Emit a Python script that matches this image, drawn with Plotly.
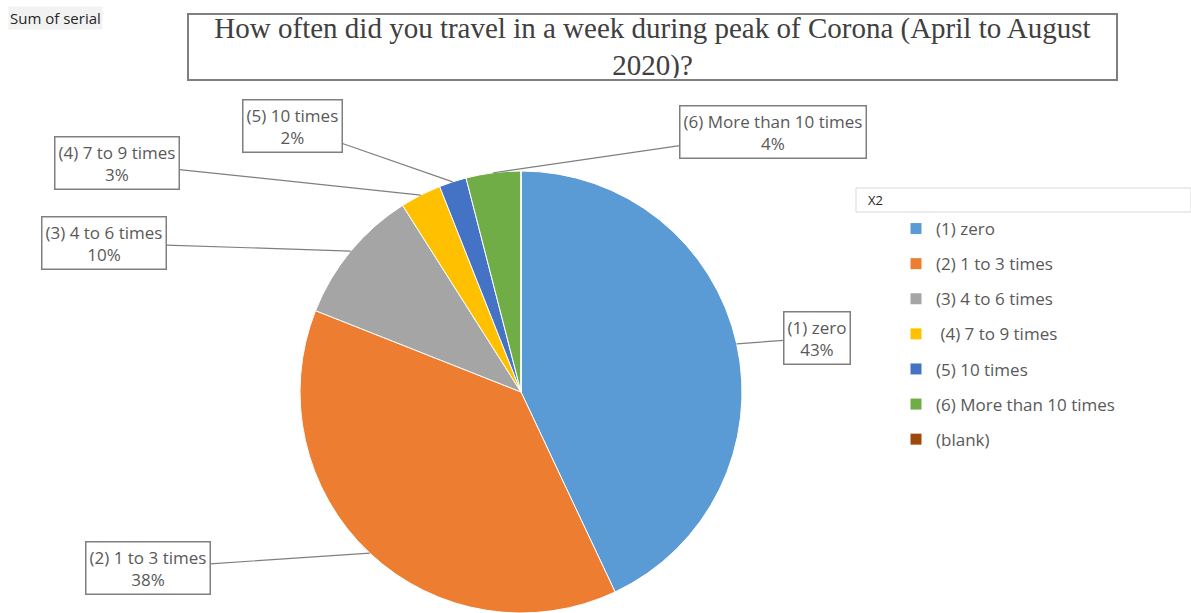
import math
import plotly.graph_objects as go

# Survey answers: weekly trips during the Corona peak (Apr-Aug 2020)
categories = ["(1) zero", "(2) 1 to 3 times", "(3) 4 to 6 times",
              "(4) 7 to 9 times", "(5) 10 times", "(6) More than 10 times", "(blank)"]
legend_labels = ["(1) zero", "(2) 1 to 3 times", "(3) 4 to 6 times",
                 " (4) 7 to 9 times", "(5) 10 times", "(6) More than 10 times", "(blank)"]
values = [43, 38, 10, 3, 2, 4, 0]
colors = ["#5B9BD5", "#ED7D31", "#A5A5A5", "#FFC000", "#4472C4", "#70AD47", "#9E480E"]

W, H = 1191, 613
TEXT = "#595959"
FONT = "Open Sans"

# pie placement in pixels
cx, cy, r = 521, 392, 221
dom_x = [(cx - r) / W, (cx + r) / W]
dom_y = [(H - cy - r) / H, (H - cy + r) / H]

fig = go.Figure()
fig.add_trace(go.Pie(
    labels=categories, values=values, sort=False,
    direction="clockwise", rotation=0,
    marker=dict(colors=colors, line=dict(color="white", width=1)),
    textinfo="none", hoverinfo="label+percent", showlegend=False,
    domain=dict(x=dom_x, y=dom_y),
))

# legend entries, one group per category so the spacing can be widened
for lab, col in zip(legend_labels, colors):
    fig.add_trace(go.Scatter(
        x=[None], y=[None], mode="markers", name=lab, legendgroup=lab,
        marker=dict(symbol="square", size=11, color=col),
    ))

# callout box centres (pixels) for each slice label
box_centres = {
    0: (817, 338),
    1: (148, 568),
    2: (104, 243),
    3: (117, 163),
    4: (292, 126),
    5: (773, 132),
}

total = sum(values)
annotations = []
cum = 0.0
for i, (cat, v) in enumerate(zip(categories, values)):
    if v == 0:
        continue
    mid = (cum + v / 2) / total
    cum += v
    ang = 2 * math.pi * mid
    tx = cx + r * math.sin(ang)
    ty = cy - r * math.cos(ang)
    bx, by = box_centres[i]
    annotations.append(dict(
        x=tx / W, y=1 - ty / H, xref="paper", yref="paper",
        ax=bx - tx, ay=by - ty, axref="pixel", ayref="pixel",
        text=f"{cat}<br>{v / total:.0%}",
        showarrow=True, arrowhead=0, arrowwidth=1.2, arrowcolor="#7F7F7F",
        font=dict(family=FONT, size=17, color=TEXT),
        bordercolor="#7F7F7F", borderwidth=1.5, borderpad=3, bgcolor="white",
        align="center",
    ))

# boxed title
annotations.append(dict(
    x=652 / W, y=1 - 47 / H, xref="paper", yref="paper",
    xanchor="center", yanchor="middle", showarrow=False,
    text="How often did you travel in a week during peak of Corona (April to August<br>2020)?",
    font=dict(family="Liberation Serif", size=29, color="#404040"),
    width=925, height=62, bordercolor="#7F7F7F", borderwidth=2, bgcolor="white",
))

annotations.append(dict(
    x=8 / W, y=1 - 18 / H, xref="paper", yref="paper",
    xanchor="left", yanchor="middle", showarrow=False,
    text="Sum of serial", font=dict(family=FONT, size=15, color="#262626"),
    bgcolor="#F2F2F2",
))

# legend field header
annotations.append(dict(
    x=866 / W, y=1 - 200 / H, xref="paper", yref="paper",
    xanchor="left", yanchor="middle", showarrow=False,
    text="X2", font=dict(family=FONT, size=13, color="#262626"),
))

fig.update_layout(
    width=W, height=H,
    margin=dict(l=0, r=0, t=0, b=0),
    paper_bgcolor="white", plot_bgcolor="white",
    xaxis=dict(visible=False), yaxis=dict(visible=False),
    annotations=annotations,
    shapes=[dict(type="rect", xref="paper", yref="paper",
                 x0=856 / W, x1=1.0, y0=1 - 212 / H, y1=1 - 188 / H,
                 line=dict(color="#D9D9D9", width=1))],
    legend=dict(
        x=896 / W, y=1 - 211 / H, xanchor="left", yanchor="top",
        font=dict(family=FONT, size=17, color=TEXT),
        tracegroupgap=10, itemwidth=30, bgcolor="rgba(0,0,0,0)",
    ),
)

fig.write_html("out.html")
